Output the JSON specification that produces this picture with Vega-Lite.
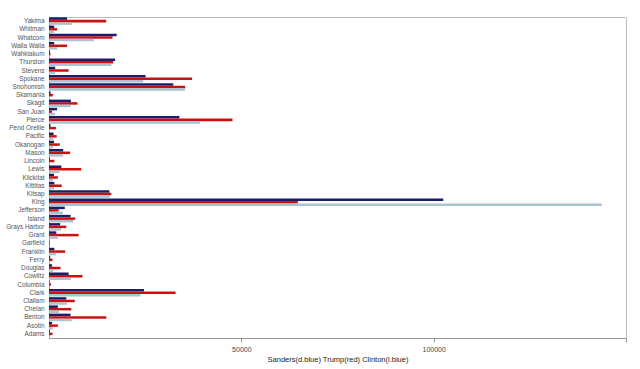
{
  "$schema": "https://vega.github.io/schema/vega-lite/v6.json",
  "width": 577,
  "height": 321,
  "autosize": {"type": "none"},
  "padding": {"left": 49, "top": 17, "right": 14, "bottom": 31},
  "background": "white",
  "config": {
    "font": "Liberation Sans",
    "view": {"stroke": "#bbbbbb", "strokeWidth": 1}
  },
  "data": {
    "values": [
      {"county": "Yakima", "Sanders": 4700, "Trump": 14850, "Clinton": 6000},
      {"county": "Whitman", "Sanders": 1350, "Trump": 2100, "Clinton": 1300},
      {"county": "Whatcom", "Sanders": 17600, "Trump": 16500, "Clinton": 11700},
      {"county": "Walla Walla", "Sanders": 1350, "Trump": 4700, "Clinton": 2100},
      {"county": "Wahkiakum", "Sanders": 200, "Trump": 400, "Clinton": 100},
      {"county": "Thurston", "Sanders": 17200, "Trump": 16700, "Clinton": 16200},
      {"county": "Stevens", "Sanders": 1600, "Trump": 5100, "Clinton": 1600},
      {"county": "Spokane", "Sanders": 25100, "Trump": 37200, "Clinton": 24500},
      {"county": "Snohomish", "Sanders": 32300, "Trump": 35400, "Clinton": 35400},
      {"county": "Skamania", "Sanders": 400, "Trump": 1000, "Clinton": 300},
      {"county": "Skagit", "Sanders": 5700, "Trump": 7400, "Clinton": 5700},
      {"county": "San Juan", "Sanders": 2100, "Trump": 800, "Clinton": 1600},
      {"county": "Pierce", "Sanders": 33900, "Trump": 47700, "Clinton": 39300},
      {"county": "Pend Oreille", "Sanders": 400, "Trump": 1800, "Clinton": 300},
      {"county": "Pacific", "Sanders": 1200, "Trump": 2000, "Clinton": 1200},
      {"county": "Okanogan", "Sanders": 1300, "Trump": 2800, "Clinton": 1000},
      {"county": "Mason", "Sanders": 3700, "Trump": 5500, "Clinton": 3700},
      {"county": "Lincoln", "Sanders": 200, "Trump": 1400, "Clinton": 100},
      {"county": "Lewis", "Sanders": 3200, "Trump": 8400, "Clinton": 2700},
      {"county": "Klickitat", "Sanders": 1300, "Trump": 2300, "Clinton": 1100},
      {"county": "Kittitas", "Sanders": 1400, "Trump": 3300, "Clinton": 1300},
      {"county": "Kitsap", "Sanders": 15700, "Trump": 16200, "Clinton": 15800},
      {"county": "King", "Sanders": 102500, "Trump": 64700, "Clinton": 143700},
      {"county": "Jefferson", "Sanders": 4100, "Trump": 2500, "Clinton": 3600},
      {"county": "Island", "Sanders": 5600, "Trump": 6800, "Clinton": 6300},
      {"county": "Grays Harbor", "Sanders": 2900, "Trump": 4500, "Clinton": 3200},
      {"county": "Grant", "Sanders": 1900, "Trump": 7700, "Clinton": 2300},
      {"county": "Garfield", "Sanders": 50, "Trump": 200, "Clinton": 30},
      {"county": "Franklin", "Sanders": 1400, "Trump": 4200, "Clinton": 1800},
      {"county": "Ferry", "Sanders": 300, "Trump": 900, "Clinton": 200},
      {"county": "Douglas", "Sanders": 800, "Trump": 3000, "Clinton": 1100},
      {"county": "Cowlitz", "Sanders": 5100, "Trump": 8700, "Clinton": 5700},
      {"county": "Columbia", "Sanders": 100, "Trump": 500, "Clinton": 80},
      {"county": "Clark", "Sanders": 24700, "Trump": 32900, "Clinton": 23800},
      {"county": "Clallam", "Sanders": 4500, "Trump": 6700, "Clinton": 4700},
      {"county": "Chelan", "Sanders": 2300, "Trump": 5800, "Clinton": 2600},
      {"county": "Benton", "Sanders": 5600, "Trump": 14900, "Clinton": 5900},
      {"county": "Asotin", "Sanders": 800, "Trump": 2300, "Clinton": 1000},
      {"county": "Adams", "Sanders": 200, "Trump": 900, "Clinton": 100}
    ]
  },
  "transform": [
    {"fold": ["Sanders", "Trump", "Clinton"], "as": ["candidate", "votes"]}
  ],
  "mark": {"type": "bar"},
  "encoding": {
    "y": {
      "field": "county",
      "type": "nominal",
      "sort": "descending",
      "scale": {"paddingInner": 0.08, "paddingOuter": 0.04},
      "axis": {
        "title": null,
        "ticks": false,
        "labelFontSize": 6.4,
        "labelColor": "#555555",
        "labelPadding": 5,
        "domainColor": "#999999"
      }
    },
    "yOffset": {
      "field": "candidate",
      "type": "nominal",
      "sort": ["Sanders", "Trump", "Clinton"]
    },
    "x": {
      "field": "votes",
      "type": "quantitative",
      "scale": {"domain": [0, 150000], "nice": false},
      "axis": {
        "title": "Sanders(d.blue)  Trump(red)  Clinton(l.blue)",
        "titleFontSize": 7.5,
        "titleFontWeight": "normal",
        "titleColor": "#222222",
        "titlePadding": 3,
        "values": [50000, 100000, 150000],
        "labelExpr": "datum.value == 150000 ? '' : datum.value",
        "labelFontSize": 7,
        "labelColor": "#444444",
        "tickSize": 4,
        "tickColor": "#999999",
        "domainColor": "#999999",
        "grid": false,
        "labelPadding": 3
      }
    },
    "color": {
      "field": "candidate",
      "type": "nominal",
      "scale": {"domain": ["Sanders", "Trump", "Clinton"], "range": ["#1c1c6e", "#cc1111", "#a9c3cf"]},
      "legend": null
    }
  }
}
